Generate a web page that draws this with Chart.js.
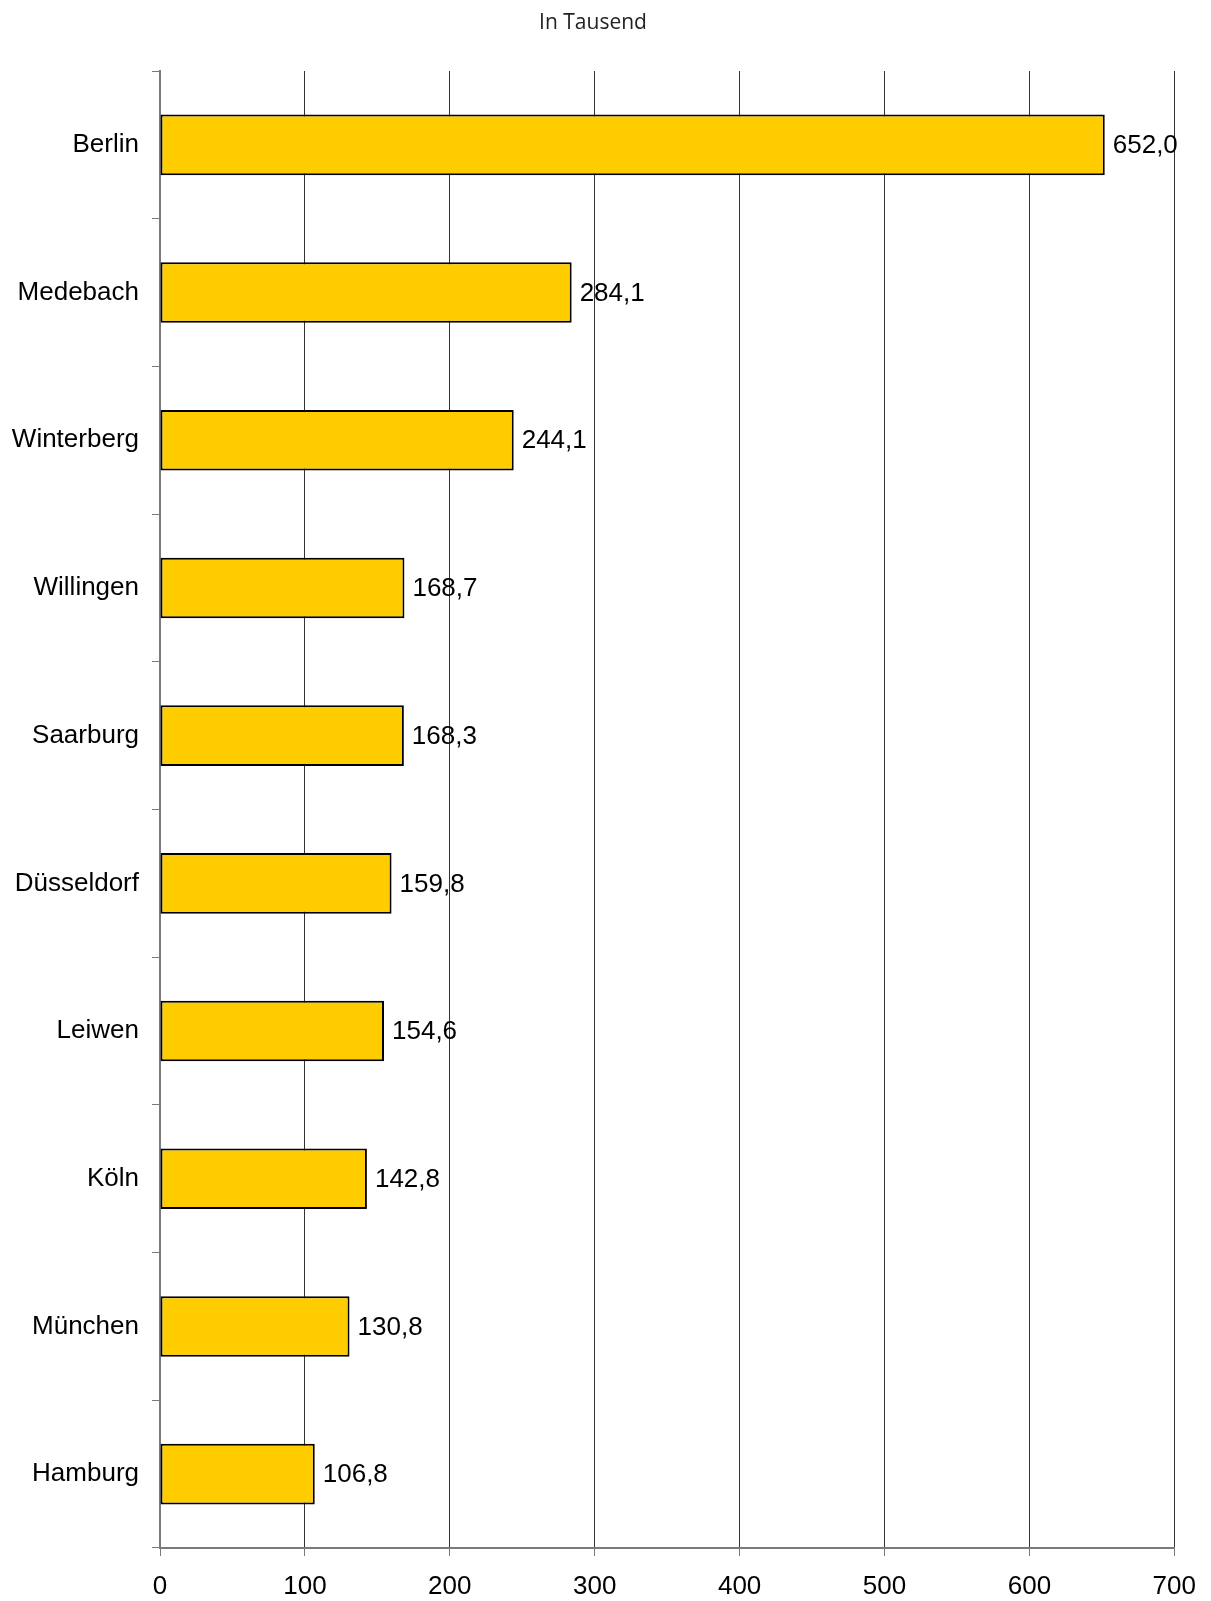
<!DOCTYPE html>
<html>
<head>
<meta charset="utf-8">
<script src="https://cdn.jsdelivr.net/npm/chart.js@4"></script>
<style>
  html, body { margin: 0; padding: 0; background: #fff; }
  canvas { display: block; }
</style>
</head>
<body>
<canvas id="chartOrte" width="1211" height="1601"></canvas>
<script>
const ORTE = ["Berlin", "Medebach", "Winterberg", "Willingen", "Saarburg", "Düsseldorf", "Leiwen", "Köln", "München", "Hamburg"];
const WERTE = [652.0, 284.1, 244.1, 168.7, 168.3, 159.8, 154.6, 142.8, 130.8, 106.8];
const TICKS_X = [0, 100, 200, 300, 400, 500, 600, 700];
const TITEL = "In Tausend";

const COLOR_BALKEN = "#FFCC00";
const COLOR_ACHSE = "#7a7a7a";
const FONT_ARIAL = "'Liberation Sans', Arial, sans-serif";

function formatZahl(v) {
  return v.toFixed(1).replace(".", ",");
}

// Titel oben und Werte neben den Balken
const textPlugin = {
  id: "texte",
  afterDraw(chart) {
    const ctx = chart.ctx;
    ctx.save();
    ctx.fillStyle = "#222";
    ctx.font = "21px 'Open Sans', sans-serif";
    ctx.textAlign = "center";
    ctx.textBaseline = "middle";
    ctx.fillText(TITEL, 593, 23);

    ctx.fillStyle = "#000";
    ctx.font = "26px " + FONT_ARIAL;
    ctx.textAlign = "left";
    const meta = chart.getDatasetMeta(0);
    meta.data.forEach((bar, i) => {
      ctx.fillText(formatZahl(WERTE[i]), bar.x + 8, bar.y + 1);
    });
    ctx.restore();
  },
};

new Chart(document.getElementById("chartOrte"), {
  type: "bar",
  data: {
    labels: ORTE,
    datasets: [{
      data: WERTE,
      backgroundColor: COLOR_BALKEN,
      borderColor: "#000",
      borderWidth: 2,
      borderSkipped: false,
      barPercentage: 0.41,
      categoryPercentage: 1,
    }],
  },
  options: {
    indexAxis: "y",
    responsive: false,
    animation: false,
    devicePixelRatio: 1,
    layout: { padding: { top: 71, right: 35, left: 0, bottom: 0 } },
    plugins: {
      legend: { display: false },
      title: { display: false },
      tooltip: { enabled: false },
    },
    scales: {
      x: {
        min: 0,
        max: 700,
        afterBuildTicks: (s) => { s.ticks = TICKS_X.map((v) => ({ value: v })); },
        afterFit: (s) => { s.height = 53; },
        grid: { color: "#333", lineWidth: 1, tickLength: 8, tickColor: COLOR_ACHSE },
        border: { color: COLOR_ACHSE, width: 2 },
        ticks: { color: "#000", font: { family: FONT_ARIAL, size: 26 }, padding: 15, maxRotation: 0 },
      },
      y: {
        offset: true,
        afterFit: (s) => { s.width = 160; },
        grid: { offset: true, drawOnChartArea: false, color: COLOR_ACHSE, tickLength: 8 },
        border: { color: COLOR_ACHSE, width: 2 },
        ticks: { color: "#000", font: { family: FONT_ARIAL, size: 26 }, padding: 13 },
      },
    },
  },
  plugins: [textPlugin],
});
</script>
</body>
</html>
